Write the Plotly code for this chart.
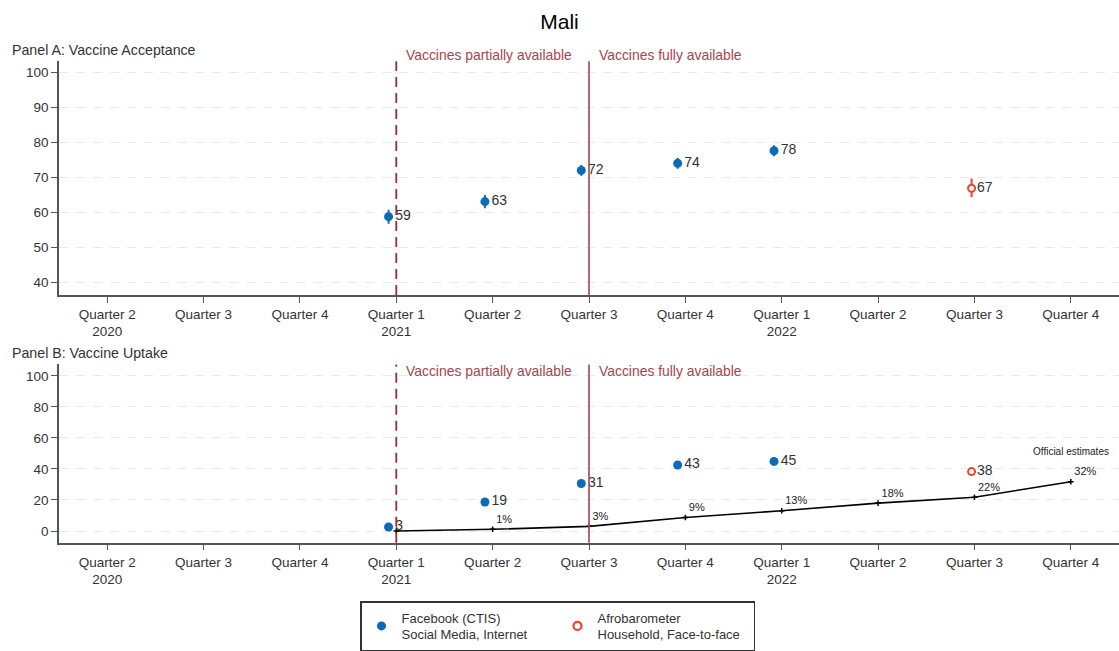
import plotly.graph_objects as go

# ---------------- data ----------------
quarter_labels = ["Quarter 2<br>2020", "Quarter 3", "Quarter 4", "Quarter 1<br>2021",
                  "Quarter 2", "Quarter 3", "Quarter 4", "Quarter 1<br>2022",
                  "Quarter 2", "Quarter 3", "Quarter 4"]

# Panel A: vaccine acceptance
fb_acc_q = [3, 4, 5, 6, 7]
fb_acc = [58.8, 63.1, 72.0, 74.0, 77.6]
fb_acc_err = [2.0, 1.9, 1.5, 1.5, 1.6]
afro_acc_q = [9]
afro_acc = [66.9]
afro_acc_err_plus = [2.8]
afro_acc_err_minus = [2.5]

# Panel B: vaccine uptake
fb_upt_q = [3, 4, 5, 6, 7]
fb_upt = [2.6, 18.7, 30.6, 42.6, 44.9]
afro_upt_q = [9]
afro_upt = [38.3]
afro_upt_err = [1.6]
official_q = [3, 4, 5, 6, 7, 8, 9, 10]
official = [0, 1.1, 3.0, 8.7, 13.1, 18.0, 21.8, 31.8]
official_labels = ["", "1%", "3%", "9%", "13%", "18%", "22%", "32%"]

partial_q = 3
full_q = 5

# ---------------- styling ----------------
FONT = "Arial, Liberation Sans, sans-serif"
BLUE = "#0b6bb8"
RED = "#f0412d"
TXT = "#333333"
AX = "#555555"
DASHLINE = "#a3293a"
SOLIDLINE = "#a85a63"
VTXT = "#a8434e"
FB_OFF = -0.08
AF_OFF = -0.03

W, H = 1119, 651

def ydom(top_px, bot_px):
    return [(H - bot_px) / H, (H - top_px) / H]

fig = go.Figure()

fig.add_trace(go.Scatter(
    x=[q + FB_OFF for q in fb_acc_q], y=fb_acc, mode="markers+text",
    text=[f"{round(v)}" for v in fb_acc], textposition="middle right",
    textfont=dict(size=14, color=TXT, family=FONT),
    marker=dict(color=BLUE, size=9),
    error_y=dict(type="data", array=fb_acc_err, color=BLUE, thickness=2, width=0),
    showlegend=False, xaxis="x", yaxis="y", cliponaxis=False))
fig.add_trace(go.Scatter(
    x=[q + AF_OFF for q in afro_acc_q], y=afro_acc, mode="markers+text",
    text=[f"{round(v)}" for v in afro_acc], textposition="middle right",
    textfont=dict(size=14, color=TXT, family=FONT),
    marker=dict(color="white", size=7, line=dict(color=RED, width=2)),
    error_y=dict(type="data", symmetric=False, array=afro_acc_err_plus,
                 arrayminus=afro_acc_err_minus, color=RED, thickness=2, width=0),
    showlegend=False, xaxis="x", yaxis="y", cliponaxis=False))

# Panel B
fig.add_trace(go.Scatter(
    x=official_q, y=official, mode="lines+markers+text",
    text=official_labels, textposition="top right",
    textfont=dict(size=11, color="#222222", family=FONT),
    line=dict(color="black", width=1.6),
    marker=dict(color="black", size=4, symbol="cross-thin", line=dict(color="black", width=1.5)),
    showlegend=False, xaxis="x2", yaxis="y2", cliponaxis=False))
fig.add_trace(go.Scatter(
    x=[q + FB_OFF for q in fb_upt_q], y=fb_upt, mode="markers+text",
    text=[f"{round(v)}" for v in fb_upt], textposition="middle right",
    textfont=dict(size=14, color=TXT, family=FONT),
    marker=dict(color=BLUE, size=9),
    showlegend=False, xaxis="x2", yaxis="y2", cliponaxis=False))
fig.add_trace(go.Scatter(
    x=[q + AF_OFF for q in afro_upt_q], y=afro_upt, mode="markers+text",
    text=[f"{round(v)}" for v in afro_upt], textposition="middle right",
    textfont=dict(size=14, color=TXT, family=FONT),
    marker=dict(color="white", size=7, line=dict(color=RED, width=2)),
    error_y=dict(type="data", array=afro_upt_err, color=RED, thickness=2, width=0),
    showlegend=False, xaxis="x2", yaxis="y2", cliponaxis=False))

# Legend-only traces
fig.add_trace(go.Scatter(
    x=[None], y=[None], mode="markers", name="Facebook (CTIS)<br>Social Media, Internet",
    marker=dict(color=BLUE, size=9), xaxis="x", yaxis="y"))
fig.add_trace(go.Scatter(
    x=[None], y=[None], mode="markers", name="Afrobarometer<br>Household, Face-to-face",
    marker=dict(color="white", size=8, line=dict(color=RED, width=2.2)), xaxis="x", yaxis="y"))

xcommon = dict(
    range=[-0.5, 10.5], tickmode="array", tickvals=list(range(len(quarter_labels))),
    ticktext=quarter_labels, showline=True, linecolor=AX, linewidth=1.5,
    ticks="outside", ticklen=6, tickcolor=AX, tickwidth=1.3, showgrid=False, zeroline=False,
    tickfont=dict(size=13.5, color=TXT, family=FONT), domain=[59 / W, 1.0], automargin=False)

ycommon = dict(
    showline=True, linecolor=AX, linewidth=1.5, ticks="outside", ticklen=6, tickcolor=AX,
    tickwidth=1.3, showgrid=True, gridcolor="#e9e9e9", griddash="9px,8px", gridwidth=1.2,
    zeroline=False, tickfont=dict(size=13.5, color=TXT, family=FONT), automargin=False)

fig.update_layout(
    width=W, height=H,
    margin=dict(l=0, r=0, t=0, b=0),
    paper_bgcolor="white", plot_bgcolor="white",
    font=dict(family=FONT, color=TXT),
    title=dict(text="Mali", x=0.5, xanchor="center", y=1 - 22 / H, yanchor="middle",
               font=dict(size=21, color="black", family=FONT)),
    xaxis=dict(xcommon, anchor="y"),
    yaxis=dict(ycommon, range=[36.5, 103.1], tickvals=[40, 50, 60, 70, 80, 90, 100],
               domain=ydom(61.7, 296.7), anchor="x"),
    xaxis2=dict(xcommon, anchor="y2"),
    yaxis2=dict(ycommon, range=[-7.5, 107.4], tickvals=[0, 20, 40, 60, 80, 100],
                domain=ydom(366.7, 546), anchor="x2"),
    showlegend=True,
    legend=dict(orientation="h", x=360 / W, xanchor="left", y=(H - 605) / H, yanchor="top",
                bordercolor="#333333", borderwidth=1.5, bgcolor="white",
                font=dict(size=13, color=TXT, family=FONT),
                entrywidth=151, entrywidthmode="pixels", itemwidth=30,
                tracegroupgap=0),
)

# vertical lines
for xr, yr in [("x", "y domain"), ("x2", "y2 domain")]:
    fig.add_shape(type="line", xref=xr, yref=yr, x0=partial_q, x1=partial_q, y0=0, y1=1,
                  line=dict(color=DASHLINE, width=1.8, dash="10px,6px"))
    fig.add_shape(type="line", xref=xr, yref=yr, x0=full_q, x1=full_q, y0=0, y1=1,
                  line=dict(color=SOLIDLINE, width=1.8))

# vertical line labels (positioned in paper y)
for xr, ypx in [("x", 55.0), ("x2", 373.0)]:
    fig.add_annotation(x=partial_q, y=1 - ypx / H, xref=xr, yref="paper",
                       text="Vaccines partially available",
                       showarrow=False, xanchor="left", yanchor="middle", xshift=8,
                       font=dict(size=13.9, color=VTXT, family=FONT))
    fig.add_annotation(x=full_q, y=1 - ypx / H, xref=xr, yref="paper",
                       text="Vaccines fully available",
                       showarrow=False, xanchor="left", yanchor="middle", xshift=8,
                       font=dict(size=13.9, color=VTXT, family=FONT))

# Official estimates label
fig.add_annotation(x=official_q[-1], y=51, xref="x2", yref="y2", text="Official estimates",
                   showarrow=False, xanchor="center", yanchor="middle",
                   font=dict(size=10, color="#222222", family=FONT))

# Panel titles
fig.add_annotation(x=10 / W, y=1 - 50 / H, xref="paper", yref="paper",
                   text="Panel A: Vaccine Acceptance", showarrow=False,
                   xanchor="left", yanchor="middle", font=dict(size=14.2, color=TXT, family=FONT))
fig.add_annotation(x=10 / W, y=1 - 355.5 / H, xref="paper", yref="paper",
                   text="Panel B: Vaccine Uptake", showarrow=False,
                   xanchor="left", yanchor="middle", font=dict(size=14.2, color=TXT, family=FONT))

fig.write_html("out.html", config={"displayModeBar": False},
               post_script="document.body.style.margin='0';document.body.style.overflow='hidden';")
